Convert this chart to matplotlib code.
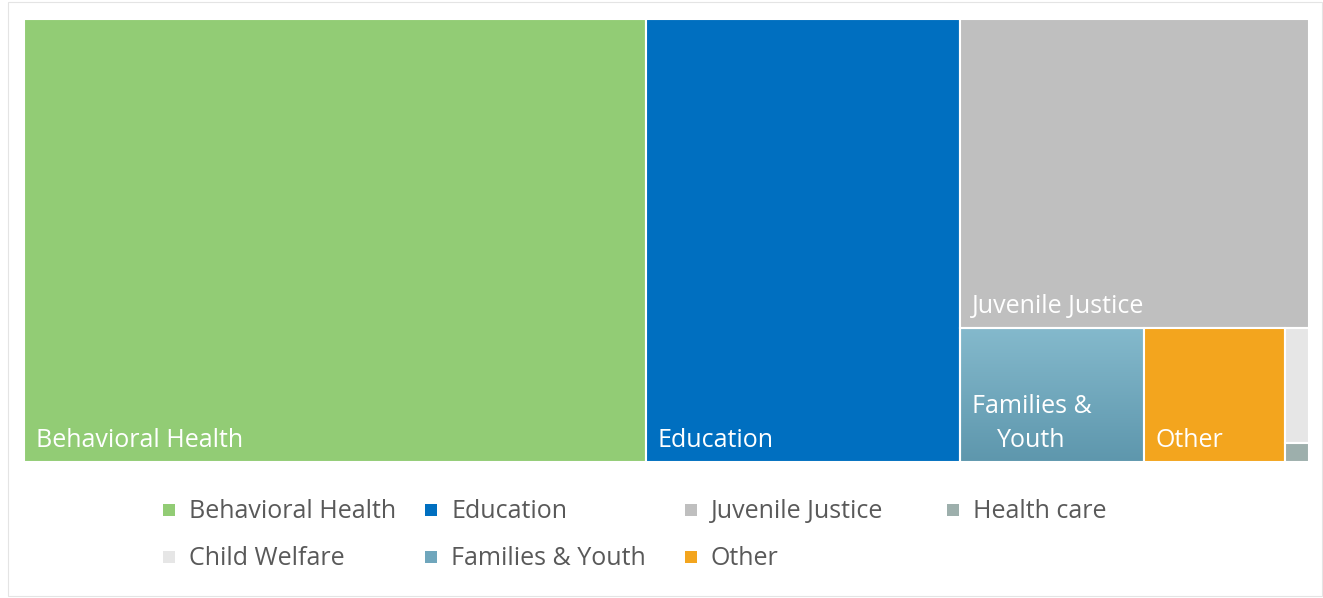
import matplotlib.pyplot as plt
import numpy as np
from matplotlib.patches import Rectangle

# データ準備
Cats = ['Behavioral Health', 'Education', 'Juvenile Justice', 'Health care',
        'Child Welfare', 'Families & Youth', 'Other']
Vals = np.array([48.2, 24.3, 18.9, 0.08, 0.48, 4.3, 3.3])
Labs = ['Behavioral Health', 'Education', 'Juvenile Justice', 'Health care',
        'Child Welfare', 'Families &\nYouth', 'Other']
Cols = ['#92CC75', '#006FC0', '#BFBFBF', '#9DAFAC', '#E6E6E6', '#6FA6BC', '#F3A51E']


def worst(row, w):
    s = sum(row)
    return max(max(w * w * r / (s * s), s * s / (w * w * r)) for r in row)


def layout(row, x, y, dx, dy):
    # 短辺方向に並べる
    s = sum(row)
    out = []
    if dx >= dy:
        ww = s / dy
        yy = y + dy
        for r in row:
            h = r / ww
            yy -= h
            out.append((x, yy, ww, h))
        return out, (x + ww, y, dx - ww, dy)
    hh = s / dx
    xx = x
    for r in row:
        w = r / hh
        out.append((xx, y + dy - hh, w, hh))
        xx += w
    return out, (x, y, dx, dy - hh)


def squarify(areas, x, y, dx, dy):
    rects = []
    areas = list(areas)
    while areas:
        row = [areas.pop(0)]
        w = min(dx, dy)
        while areas and worst(row + [areas[0]], w) <= worst(row, w):
            row.append(areas.pop(0))
        r, (x, y, dx, dy) = layout(row, x, y, dx, dy)
        rects += r
    return rects


# 作図領域定義
W, H = 1285.0, 443.0
fsz = 18
plt.rcParams['font.family'] = ['Open Sans', 'DejaVu Sans']
fig = plt.figure(figsize=(13.23, 5.98), dpi=100, facecolor='w')
fig.patches.append(Rectangle((8 / 1323, 2 / 598), 1314 / 1323, 594 / 598, transform=fig.transFigure,
                             fill=False, edgecolor='#E4E4E4', lw=0.8))
ax = fig.add_axes([24 / 1323, 136 / 598, W / 1323, H / 598])
ax.set_xlim(0, W)
ax.set_ylim(0, H)
ax.axis('off')

order = np.argsort(-Vals, kind='stable')
areas = Vals[order] / Vals.sum() * W * H
rects = squarify(areas, 0, 0, W, H)

for k, (rx, ry, rw, rh) in zip(order, rects):
    if Cats[k] == 'Families & Youth':
        grad = np.linspace(0, 1, 64).reshape(-1, 1)
        cmap = plt.matplotlib.colors.LinearSegmentedColormap.from_list('fy', ['#5E97AD', '#84B9CC'])
        ax.imshow(grad, extent=(rx, rx + rw, ry, ry + rh), origin='lower', cmap=cmap,
                  aspect='auto', zorder=1)
        ax.add_patch(Rectangle((rx, ry), rw, rh, fill=False, edgecolor='w', lw=1.5, zorder=2))
    else:
        ax.add_patch(Rectangle((rx, ry), rw, rh, facecolor=Cols[k], edgecolor='w', lw=1.5, zorder=2))
    if rw > 100:
        ax.annotate(Labs[k], (rx, ry), xytext=(8.5, 11), textcoords='offset points',
                    ha='left', va='baseline', multialignment='center', linespacing=1.45,
                    color='w', fontsize=fsz, zorder=3)

# 凡例
lx = [163, 425, 685, 947]
ly = [510, 557]
for i, c in enumerate(Cats):
    px, py = lx[i % 4], ly[i // 4]
    fig.patches.append(Rectangle((px / 1323, 1 - (py + 6) / 598), 12 / 1323, 12 / 598,
                                 transform=fig.transFigure, facecolor=Cols[i], edgecolor='none'))
    fig.text((px + 26) / 1323, 1 - (py + 8) / 598, c, color='#595959', fontsize=fsz,
             ha='left', va='baseline')

plt.savefig('out.png', dpi=100)
